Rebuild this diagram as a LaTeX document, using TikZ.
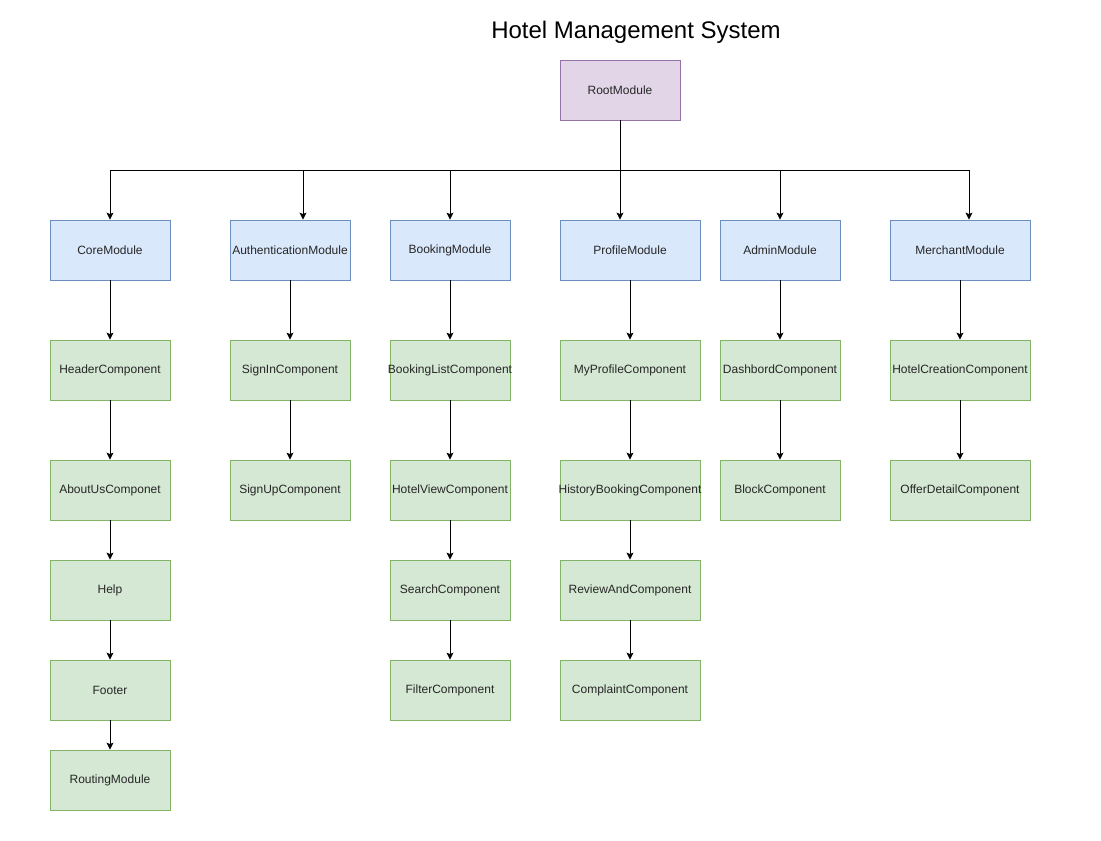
\documentclass[tikz,border=0pt]{standalone}
\usepackage{fontspec}
\setmainfont{Liberation Sans}
\usetikzlibrary{arrows.meta}
\definecolor{rootfill}{HTML}{E1D5E7}
\definecolor{rootdraw}{HTML}{9673A6}
\definecolor{modfill}{HTML}{DAE8FC}
\definecolor{moddraw}{HTML}{6C8EBF}
\definecolor{compfill}{HTML}{D5E8D4}
\definecolor{compdraw}{HTML}{82B366}
\newcommand{\lbl}[1]{\makebox[0pt][c]{\raisebox{-1pt}{#1}}}
\tikzset{
  box/.style={draw, line width=0.8pt, minimum height=60pt, inner sep=0pt, font=\fontsize{12}{14}\selectfont, text=black!85},
  rootbox/.style={box, fill=rootfill, draw=rootdraw, minimum width=120pt},
  modbox/.style={box, fill=modfill, draw=moddraw},
  compbox/.style={box, fill=compfill, draw=compdraw},
  arr/.style={draw, line width=0.9pt, -{Stealth[length=7pt,width=7pt,inset=1.5pt]}},
}
\begin{document}
\begin{tikzpicture}[x=1pt,y=-1pt]
\useasboundingbox (0,0) rectangle (1101,841);
\node[font=\fontsize{24}{28}\selectfont] (title) at (636,32) {Hotel Management System};
\node[rootbox] (root) at (620,90) {\lbl{RootModule}};
% modules
\node[modbox, minimum width=120pt] (core) at (110,250) {\lbl{CoreModule}};
\node[modbox, minimum width=120pt] (auth) at (290,250) {\lbl{AuthenticationModule}};
\node[modbox, minimum width=120pt] (book) at (450,250) {\lbl{BookingModule}};
\node[modbox, minimum width=140pt] (prof) at (630,250) {\lbl{ProfileModule}};
\node[modbox, minimum width=120pt] (admin) at (780,250) {\lbl{AdminModule}};
\node[modbox, minimum width=140pt] (merch) at (960,250) {\lbl{MerchantModule}};
% core column
\node[compbox, minimum width=120pt] (header) at (110,370) {\lbl{HeaderComponent}};
\node[compbox, minimum width=120pt] (about) at (110,490) {\lbl{AboutUsComponet}};
\node[compbox, minimum width=120pt] (help) at (110,590) {\lbl{Help}};
\node[compbox, minimum width=120pt] (footer) at (110,690) {\lbl{Footer}};
\node[compbox, minimum width=120pt] (routing) at (110,780) {\lbl{RoutingModule}};
% auth column
\node[compbox, minimum width=120pt] (signin) at (290,370) {\lbl{SignInComponent}};
\node[compbox, minimum width=120pt] (signup) at (290,490) {\lbl{SignUpComponent}};
% booking column
\node[compbox, minimum width=120pt] (blist) at (450,370) {\lbl{BookingListComponent}};
\node[compbox, minimum width=120pt] (hview) at (450,490) {\lbl{HotelViewComponent}};
\node[compbox, minimum width=120pt] (search) at (450,590) {\lbl{SearchComponent}};
\node[compbox, minimum width=120pt] (filter) at (450,690) {\lbl{FilterComponent}};
% profile column
\node[compbox, minimum width=140pt] (myprof) at (630,370) {\lbl{MyProfileComponent}};
\node[compbox, minimum width=140pt] (hist) at (630,490) {\lbl{HistoryBookingComponent}};
\node[compbox, minimum width=140pt] (review) at (630,590) {\lbl{ReviewAndComponent}};
\node[compbox, minimum width=140pt] (compl) at (630,690) {\lbl{ComplaintComponent}};
% admin column
\node[compbox, minimum width=120pt] (dash) at (780,370) {\lbl{DashbordComponent}};
\node[compbox, minimum width=120pt] (block) at (780,490) {\lbl{BlockComponent}};
% merchant column
\node[compbox, minimum width=140pt] (hcreate) at (960,370) {\lbl{HotelCreationComponent}};
\node[compbox, minimum width=140pt] (offer) at (960,490) {\lbl{OfferDetailComponent}};
% bus
\coordinate (bus) at (620,170);
\draw[arr] (root.south) -- (bus) -| (core.north);
\draw[arr] (root.south) -- (bus) -| ([xshift=13pt]auth.north);
\draw[arr] (root.south) -- (bus) -| (book.north);
\draw[arr] (root.south) -- ([xshift=-10pt]prof.north);
\draw[arr] (root.south) -- (bus) -| (admin.north);
\draw[arr] (root.south) -- (bus) -| ([xshift=9pt]merch.north);
% columns
\draw[arr] (core) -- (header);
\draw[arr] (header) -- (about);
\draw[arr] (about) -- (help);
\draw[arr] (help) -- (footer);
\draw[arr] (footer) -- (routing);
\draw[arr] (auth) -- (signin);
\draw[arr] (signin) -- (signup);
\draw[arr] (book) -- (blist);
\draw[arr] (blist) -- (hview);
\draw[arr] (hview) -- (search);
\draw[arr] (search) -- (filter);
\draw[arr] (prof) -- (myprof);
\draw[arr] (myprof) -- (hist);
\draw[arr] (hist) -- (review);
\draw[arr] (review) -- (compl);
\draw[arr] (admin) -- (dash);
\draw[arr] (dash) -- (block);
\draw[arr] (merch) -- (hcreate);
\draw[arr] (hcreate) -- (offer);
\end{tikzpicture}
\end{document}
